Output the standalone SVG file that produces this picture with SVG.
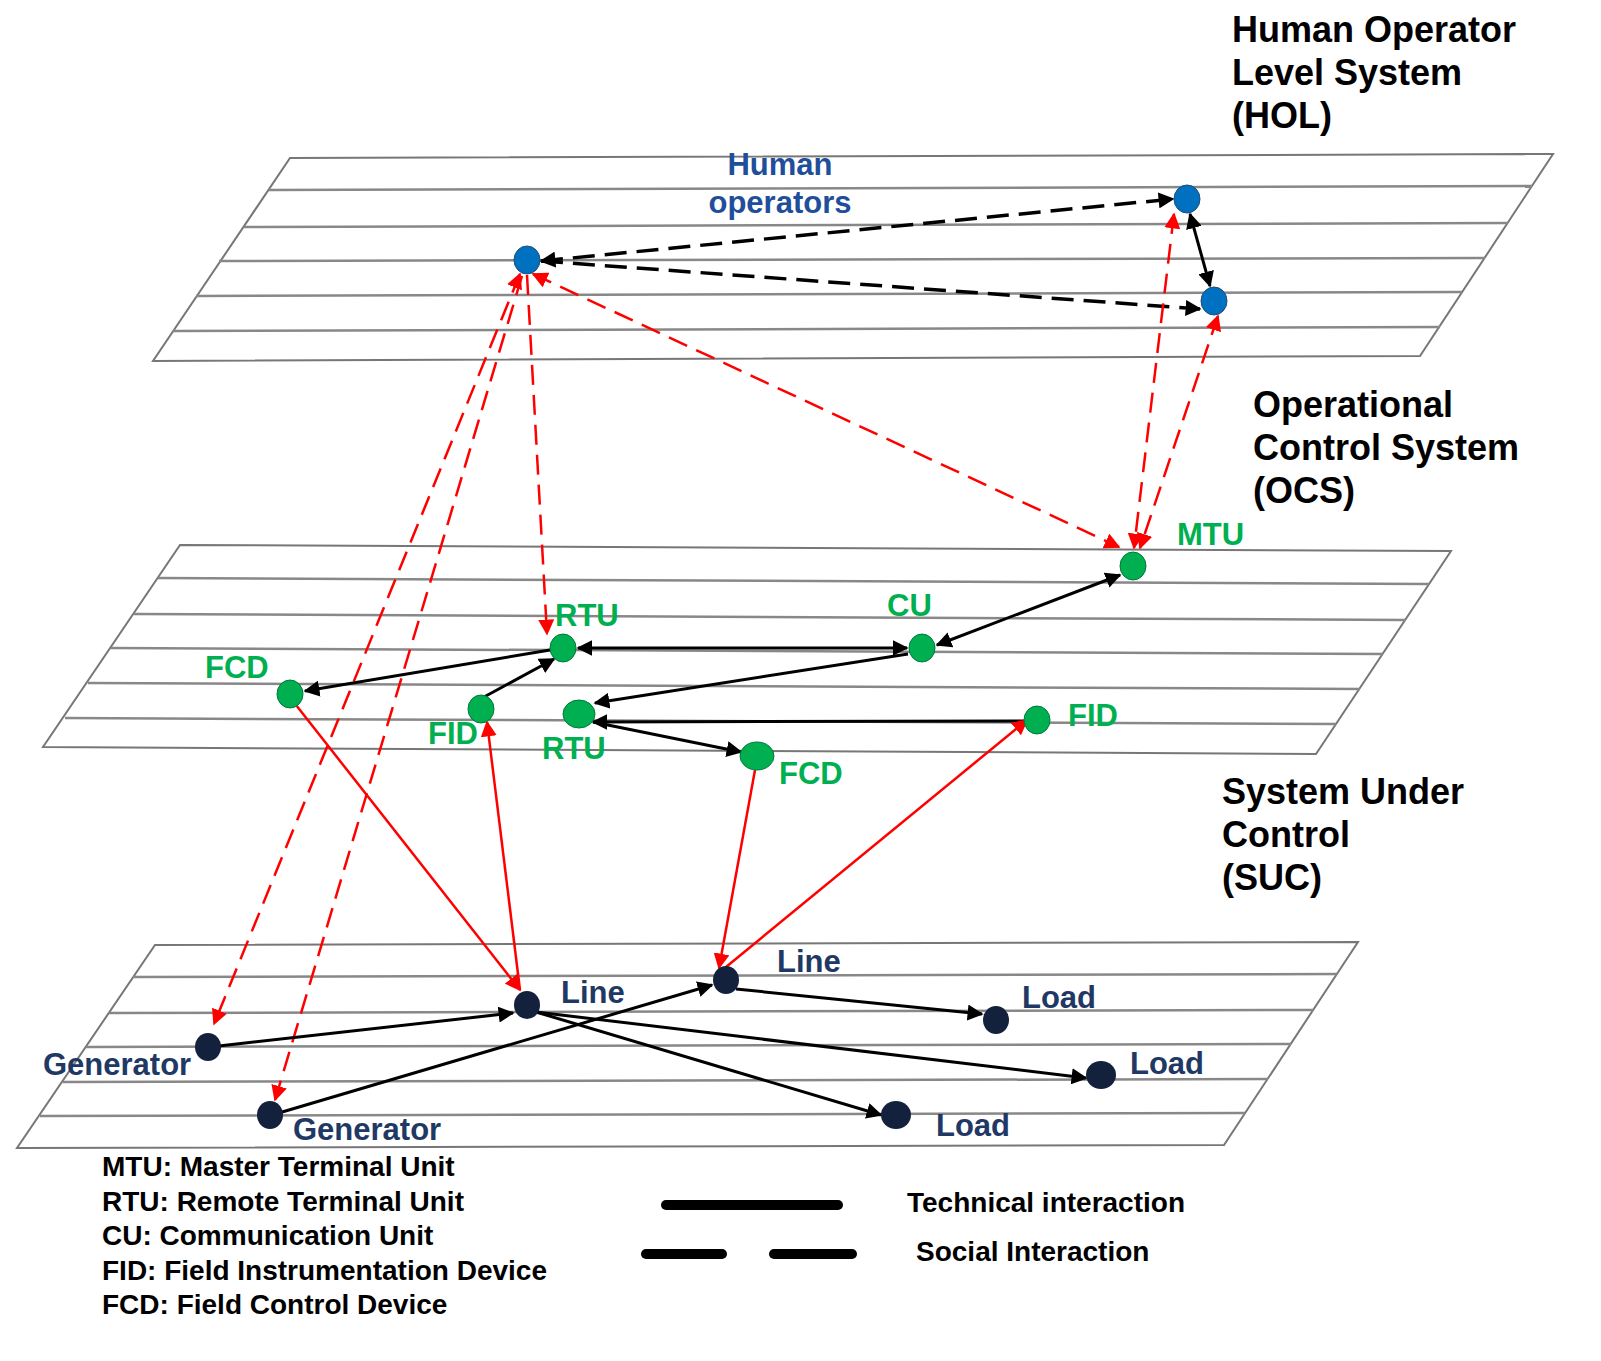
<svg xmlns="http://www.w3.org/2000/svg" width="1601" height="1361" viewBox="0 0 1601 1361">
<style>
text{font-family:"Liberation Sans",Arial,sans-serif;font-weight:bold}
.pl{fill:#fff;stroke:#777;stroke-width:2}
.gl{stroke:#888;stroke-width:2.5}
.hd{font-size:36px;fill:#000}
.bl{fill:#0070C0;stroke:#1f4e79;stroke-width:1}
.gn{fill:#00B050;stroke:#007a3a;stroke-width:1}
.nv{fill:#14213D}
.gt{fill:#00B050;font-size:31px}
.nt{fill:#1F3864;font-size:31px}
.k{stroke:#000;stroke-width:3;fill:none}
.kd{stroke:#000;stroke-width:3.5;fill:none;stroke-dasharray:22,10}
.r{stroke:#f00;stroke-width:2.5;fill:none}
.rd{stroke:#f00;stroke-width:2.5;fill:none;stroke-dasharray:20,10}
.lg{font-size:28px;fill:#000}
</style>
<defs>
<marker id="ar" viewBox="0 0 10 10" refX="9" refY="5" markerWidth="16" markerHeight="16" orient="auto-start-reverse" markerUnits="userSpaceOnUse"><path d="M0,0L10,5L0,10z" fill="#f00"/></marker>
<marker id="ab" viewBox="0 0 10 10" refX="9" refY="5" markerWidth="16" markerHeight="16" orient="auto-start-reverse" markerUnits="userSpaceOnUse"><path d="M0,0L10,5L0,10z" fill="#000"/></marker>
</defs>

<g id="plane-hol">
<polygon class="pl" points="290,158 1553,154 1420,356 153,361"/>
<line class="gl" x1="269" y1="190" x2="1532" y2="186"/>
<line class="gl" x1="244" y1="227" x2="1508" y2="223"/>
<line class="gl" x1="219" y1="261" x2="1485" y2="258"/>
<line class="gl" x1="196" y1="296" x2="1462" y2="292"/>
<line class="gl" x1="173" y1="331" x2="1440" y2="327"/>
</g>
<g id="plane-ocs">
<polygon class="pl" points="180,545 1451,551 1316,754 43,747"/>
<line class="gl" x1="158" y1="578" x2="1429" y2="584"/>
<line class="gl" x1="134" y1="614" x2="1405" y2="620"/>
<line class="gl" x1="111" y1="648" x2="1383" y2="654"/>
<line class="gl" x1="88" y1="683" x2="1360" y2="689"/>
<line class="gl" x1="65" y1="718" x2="1336" y2="724"/>
</g>
<g id="plane-suc">
<polygon class="pl" points="155,945 1358,942 1224,1145 17,1148"/>
<line class="gl" x1="133" y1="977" x2="1337" y2="974"/>
<line class="gl" x1="109" y1="1013" x2="1313" y2="1010"/>
<line class="gl" x1="86" y1="1047" x2="1291" y2="1044"/>
<line class="gl" x1="63" y1="1082" x2="1268" y2="1079"/>
<line class="gl" x1="40" y1="1116" x2="1245" y2="1113"/>
</g>

<g id="titles">
<text class="hd" x="1232" y="42">Human Operator</text>
<text class="hd" x="1232" y="85">Level System</text>
<text class="hd" x="1232" y="128">(HOL)</text>
<text class="hd" x="1253" y="417">Operational</text>
<text class="hd" x="1253" y="460">Control System</text>
<text class="hd" x="1253" y="503">(OCS)</text>
<text class="hd" x="1222" y="804">System Under</text>
<text class="hd" x="1222" y="847">Control</text>
<text class="hd" x="1222" y="890">(SUC)</text>
</g>

<g id="connectors">
<line class="kd" x1="541" y1="261" x2="1173" y2="199" marker-start="url(#ab)" marker-end="url(#ab)"/>
<line class="kd" x1="541" y1="261" x2="1200" y2="309" marker-end="url(#ab)"/>
<line class="k" x1="1190" y1="214" x2="1210" y2="286" marker-start="url(#ab)" marker-end="url(#ab)"/>
<line class="rd" x1="527" y1="275" x2="547" y2="634" marker-end="url(#ar)"/>
<line class="rd" x1="533" y1="274" x2="1119" y2="547" marker-start="url(#ar)" marker-end="url(#ar)"/>
<line class="rd" x1="1174" y1="214" x2="1134" y2="548" marker-start="url(#ar)" marker-end="url(#ar)"/>
<line class="rd" x1="1218" y1="316" x2="1140" y2="548" marker-start="url(#ar)" marker-end="url(#ar)"/>
<line class="rd" x1="520" y1="274" x2="214" y2="1024" marker-start="url(#ar)" marker-end="url(#ar)"/>
<line class="rd" x1="522" y1="276" x2="275" y2="1100" marker-end="url(#ar)"/>
<line class="k" x1="578" y1="648" x2="907" y2="648" marker-start="url(#ab)" marker-end="url(#ab)"/>
<line class="k" x1="937" y1="645" x2="1120" y2="575" marker-start="url(#ab)" marker-end="url(#ab)"/>
<line class="k" x1="550" y1="650" x2="305" y2="691" marker-end="url(#ab)"/>
<line class="k" x1="484" y1="697" x2="554" y2="659" marker-end="url(#ab)"/>
<line class="k" x1="908" y1="654" x2="595" y2="703" marker-end="url(#ab)"/>
<line class="k" x1="593" y1="722" x2="1024" y2="721" marker-start="url(#ab)"/>
<line class="k" x1="593" y1="722" x2="741" y2="752" marker-end="url(#ab)"/>
<line class="r" x1="296" y1="705" x2="520" y2="990" marker-end="url(#ar)"/>
<line class="r" x1="487" y1="722" x2="520" y2="990" marker-start="url(#ar)"/>
<line class="r" x1="755" y1="770" x2="719" y2="968" marker-end="url(#ar)"/>
<line class="r" x1="726" y1="967" x2="1027" y2="720" marker-end="url(#ar)"/>
<line class="k" x1="210" y1="1047" x2="513" y2="1013" marker-end="url(#ab)"/>
<line class="k" x1="272" y1="1115" x2="712" y2="985" marker-end="url(#ab)"/>
<line class="k" x1="536" y1="1012" x2="881" y2="1115" marker-end="url(#ab)"/>
<line class="k" x1="536" y1="1012" x2="1086" y2="1078" marker-end="url(#ab)"/>
<line class="k" x1="736" y1="989" x2="982" y2="1014" marker-end="url(#ab)"/>
</g>

<g id="node-h1"><ellipse class="bl" cx="527" cy="260" rx="13" ry="14"/></g>
<g id="node-h2"><ellipse class="bl" cx="1187" cy="199" rx="13" ry="14"/></g>
<g id="node-h3"><ellipse class="bl" cx="1214" cy="301" rx="13" ry="14"/></g>
<g id="label-human"><text x="780" y="175" text-anchor="middle" font-size="31" fill="#1F4E9A">Human</text><text x="780" y="213" text-anchor="middle" font-size="31" fill="#1F4E9A">operators</text></g>

<g id="node-mtu"><ellipse class="gn" cx="1133" cy="566" rx="13" ry="14"/><text class="gt" x="1177" y="545">MTU</text></g>
<g id="node-cu"><ellipse class="gn" cx="922" cy="648" rx="13" ry="14"/><text class="gt" x="887" y="616">CU</text></g>
<g id="node-rtu1"><ellipse class="gn" cx="563" cy="648" rx="13" ry="14"/><text class="gt" x="555" y="626">RTU</text></g>
<g id="node-fcd1"><ellipse class="gn" cx="290" cy="694" rx="13" ry="14"/><text class="gt" x="205" y="678">FCD</text></g>
<g id="node-fid1"><ellipse class="gn" cx="481" cy="709" rx="13" ry="14"/><text class="gt" x="428" y="744">FID</text></g>
<g id="node-rtu2"><ellipse class="gn" cx="579" cy="714" rx="16" ry="14"/><text class="gt" x="542" y="759">RTU</text></g>
<g id="node-fcd2"><ellipse class="gn" cx="757" cy="756" rx="17" ry="14"/><text class="gt" x="779" y="784">FCD</text></g>
<g id="node-fid2"><ellipse class="gn" cx="1037" cy="720" rx="13" ry="14"/><text class="gt" x="1068" y="726">FID</text></g>

<g id="node-line1"><ellipse class="nv" cx="527" cy="1005" rx="13" ry="14"/><text class="nt" x="561" y="1003">Line</text></g>
<g id="node-line2"><ellipse class="nv" cx="726" cy="980" rx="13" ry="14"/><text class="nt" x="777" y="972">Line</text></g>
<g id="node-gen1"><ellipse class="nv" cx="208" cy="1047" rx="13" ry="14"/><text class="nt" x="43" y="1075">Generator</text></g>
<g id="node-gen2"><ellipse class="nv" cx="270" cy="1115" rx="13" ry="14"/><text class="nt" x="293" y="1140" font-size="27">Generator</text></g>
<g id="node-load1"><ellipse class="nv" cx="996" cy="1020" rx="13" ry="14"/><text class="nt" x="1022" y="1008">Load</text></g>
<g id="node-load2"><ellipse class="nv" cx="1101" cy="1075" rx="15" ry="14"/><text class="nt" x="1130" y="1074">Load</text></g>
<g id="node-load3"><ellipse class="nv" cx="896" cy="1115" rx="15" ry="14"/><text class="nt" x="936" y="1136">Load</text></g>

<g id="legend">
<text class="lg" x="102" y="1176">MTU: Master Terminal Unit</text>
<text class="lg" x="102" y="1211">RTU: Remote Terminal Unit</text>
<text class="lg" x="102" y="1245">CU: Communication Unit</text>
<text class="lg" x="102" y="1280">FID: Field Instrumentation Device</text>
<text class="lg" x="102" y="1314">FCD: Field Control Device</text>
<line x1="666" y1="1205" x2="838" y2="1205" stroke="#000" stroke-width="10" stroke-linecap="round"/>
<line x1="646" y1="1254" x2="722" y2="1254" stroke="#000" stroke-width="10" stroke-linecap="round"/>
<line x1="774" y1="1254" x2="852" y2="1254" stroke="#000" stroke-width="10" stroke-linecap="round"/>
<text class="lg" x="907" y="1212">Technical interaction</text>
<text class="lg" x="916" y="1261">Social Interaction</text>
</g>
</svg>
